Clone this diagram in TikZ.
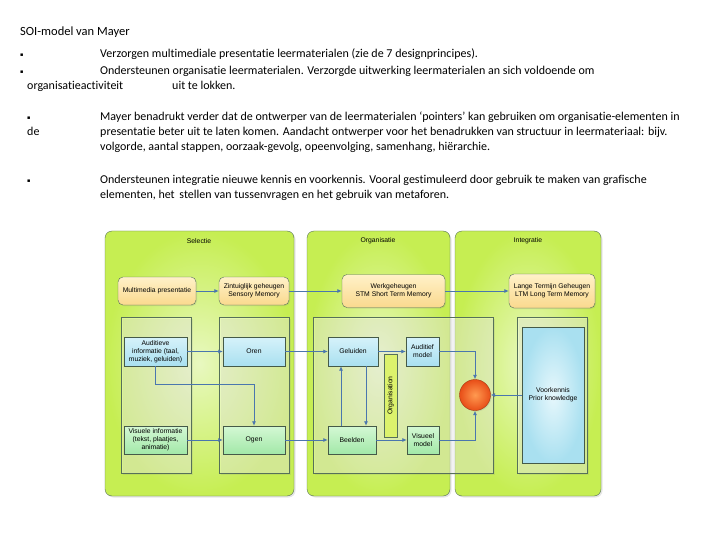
\documentclass[tikz,border=0pt]{standalone}
\usepackage{fontspec}
\setmainfont{Carlito}[Ligatures=CommonOff]
\newfontfamily\diagfont{Liberation Sans}
\newfontfamily\symfont{DejaVu Sans}
\usetikzlibrary{arrows.meta,shadows}
\definecolor{panelfill}{HTML}{C6EE52}
\definecolor{panelcore}{HTML}{E8F8C0}
\definecolor{edgegray}{HTML}{56705A}
\definecolor{orangetop}{HTML}{FFF1C8}
\definecolor{orangebot}{HTML}{FAD98E}
\definecolor{bluetop}{HTML}{D6F2FA}
\definecolor{bluebot}{HTML}{A9E0F0}
\definecolor{greentop}{HTML}{D4F8D4}
\definecolor{greenbot}{HTML}{A2E8A8}
\definecolor{flowblue}{HTML}{4A76AE}
\definecolor{barfill}{HTML}{DCF26C}
\definecolor{ballin}{HTML}{FF9A50}
\definecolor{ballout}{HTML}{E84E18}
\newcommand{\blt}{{\symfont\fontsize{5}{5}\selectfont ▪}}
\tikzset{
  panel/.style={rounded corners=7pt,draw=edgegray,inner color=panelcore,outer color=panelfill,
    drop shadow={opacity=0.2,shadow xshift=1.5pt,shadow yshift=-1.5pt}},
  group/.style={draw=edgegray,fill=white,fill opacity=0.35,draw opacity=1,
    drop shadow={opacity=0.15,shadow xshift=1.5pt,shadow yshift=-1.5pt}},
  memory/.style={rounded corners=5pt,draw=edgegray,top color=orangetop,bottom color=orangebot,
    align=center,font=\diagfont\fontsize{6.8}{8}\selectfont,inner sep=1pt,
    drop shadow={opacity=0.2,shadow xshift=1pt,shadow yshift=-1pt}},
  audio/.style={draw=edgegray!80!black,top color=bluetop,bottom color=bluebot,align=center,
    font=\diagfont\fontsize{6.8}{8}\selectfont,inner sep=1pt,
    drop shadow={opacity=0.2,shadow xshift=1pt,shadow yshift=-1pt}},
  visual/.style={draw=edgegray!80!black,top color=greentop,bottom color=greenbot,align=center,
    font=\diagfont\fontsize{6.8}{8}\selectfont,inner sep=1pt,
    drop shadow={opacity=0.2,shadow xshift=1pt,shadow yshift=-1pt}},
  phase/.style={font=\diagfont\fontsize{6.8}{8}\selectfont},
  flow/.style={->,draw=flowblue,line width=0.8pt},
  line/.style={anchor=base west,inner sep=0pt,font=\fontsize{12}{14}\selectfont},
  >={Latex[length=4.5pt,width=4pt]}
}
\begin{document}
\begin{tikzpicture}[x=1pt,y=-1pt]
    \useasboundingbox (0,0) rectangle (720,540);

    \node[anchor=base west,inner sep=0pt,font=\fontsize{12.5}{15}\selectfont] (title) at (20,36) {SOI-model van Mayer};

    \node[line] (b1) at (20,57) {\blt};
    \node[line] (t1) at (100,58) {Verzorgen multimediale presentatie leermaterialen (zie de 7 designprincipes).};
    \node[line] (b2) at (20,74) {\blt};
    \node[line] (t2) at (100,75) {Ondersteunen organisatie leermaterialen. Verzorgde uitwerking leermaterialen an sich voldoende om};
    \node[line] (t3a) at (27,90) {organisatieactiviteit};
    \node[line] (t3b) at (172,90) {uit te lokken.};
    \node[line] (b3) at (27,120) {\blt};
    \node[line] (t4) at (100,121) {Mayer benadrukt verder dat de ontwerper van de leermaterialen ‘pointers’ kan gebruiken om organisatie-elementen in};
    \node[line] (t5a) at (27,136) {de};
    \node[line] (t5b) at (100,136) {presentatie beter uit te laten komen. Aandacht ontwerper voor het benadrukken van structuur in leermateriaal: bijv.};
    \node[line] (t6) at (100,151) {volgorde, aantal stappen, oorzaak-gevolg, opeenvolging, samenhang, hiërarchie.};
    \node[line] (b4) at (27,183) {\blt};
    \node[line] (t7) at (100,184) {Ondersteunen integratie nieuwe kennis en voorkennis. Vooral gestimuleerd door gebruik te maken van grafische};
    \node[line] (t8) at (100,199) {elementen, het\, stellen van tussenvragen en het gebruik van metaforen.};

    \node[panel,minimum width=189pt,minimum height=265pt] (sel) at (199.5,363.5) {};
    \node[panel,minimum width=143pt,minimum height=265pt] (org) at (378.5,363.5) {};
    \node[panel,minimum width=146pt,minimum height=265pt] (int) at (528,363.5) {};
    \node[phase] (selL) at (199,241) {Selectie};
    \node[phase] (orgL) at (378,241) {Organisatie};
    \node[phase] (intL) at (528,241) {Integratie};

    \node[group,minimum width=70pt,minimum height=156pt] (g1) at (156,395) {};
    \node[group,minimum width=70pt,minimum height=156pt] (g2) at (254,395) {};
    \node[group,minimum width=180pt,minimum height=156pt] (g3) at (403,395) {};
    \node[group,minimum width=70pt,minimum height=156pt] (g4) at (552,395) {};

    \node[memory,minimum width=78pt,minimum height=28pt] (mm) at (157,291) {Multimedia presentatie};
    \node[memory,minimum width=70pt,minimum height=28pt] (zg) at (254,291) {Zintuiglijk geheugen\\Sensory Memory};
    \node[memory,minimum width=103pt,minimum height=33pt] (wg) at (393.5,291) {Werkgeheugen\\STM Short Term Memory};
    \node[memory,minimum width=86pt,minimum height=34pt] (ltg) at (552,291) {Lange Termijn Geheugen\\LTM Long Term Memory};

    \node[audio,minimum width=63pt,minimum height=29pt] (aud) at (155.5,351.5) {Auditieve\\informatie (taal,\\muziek, geluiden)};
    \node[audio,minimum width=62pt,minimum height=29pt] (oren) at (254,351.5) {Oren};
    \node[audio,minimum width=50pt,minimum height=29pt] (gel) at (353,351.5) {Geluiden};
    \node[audio,minimum width=33pt,minimum height=29pt] (am) at (422.5,351.5) {Auditief\\model};

    \node[visual,minimum width=63pt,minimum height=28pt] (vis) at (155.5,440) {Visuele informatie\\(tekst, plaatjes,\\animatie)};
    \node[visual,minimum width=62pt,minimum height=28pt] (ogen) at (254,440) {Ogen};
    \node[visual,minimum width=48pt,minimum height=28pt] (beel) at (352,440) {Beelden};
    \node[visual,minimum width=32pt,minimum height=28pt] (vm) at (423,440) {Visueel\\model};

    \node[draw=edgegray,fill=barfill,rotate=90,minimum width=83pt,minimum height=13pt,inner sep=0pt,
      font=\diagfont\fontsize{6.8}{8}\selectfont] (bar) at (390.5,395.5) {Organisation};

    \node[audio,inner color=bluetop!60,outer color=bluebot,minimum width=62pt,minimum height=136pt] (vk) at (553,395) {Voorkennis\\Prior knowledge};

    \node[circle,draw=ballout!70!black,inner color=ballin,outer color=ballout,minimum size=31pt,inner sep=0pt,
      drop shadow={opacity=0.2,shadow xshift=1pt,shadow yshift=-1pt}] (ball) at (475,395) {};

    \coordinate (bend) at (254,384);

    \draw[flow] (mm)--(zg);
    \draw[flow] (zg)--(wg);
    \draw[flow] (wg)--(ltg);
    \draw[flow] (aud)--(oren);
    \draw[flow] (oren)--(gel);
    \draw[flow] (gel)--(am);
    \draw[flow] (vis)--(ogen);
    \draw[flow] (ogen)--(beel);
    \draw[flow] (beel)--(vm);
    \draw[flow] (aud.south)|-(bend)--(ogen.north);
    \draw[flow] ([xshift=-11pt]beel.north)--([xshift=-12pt]gel.south);
    \draw[flow] ([xshift=13pt]gel.south)--([xshift=14pt]beel.north);
    \draw[flow] (am.east)-|(ball.north);
    \draw[flow] (vm.east)-|(ball.south);
    \draw[flow] (vk.west)--(ball.east);
\end{tikzpicture}
\end{document}
